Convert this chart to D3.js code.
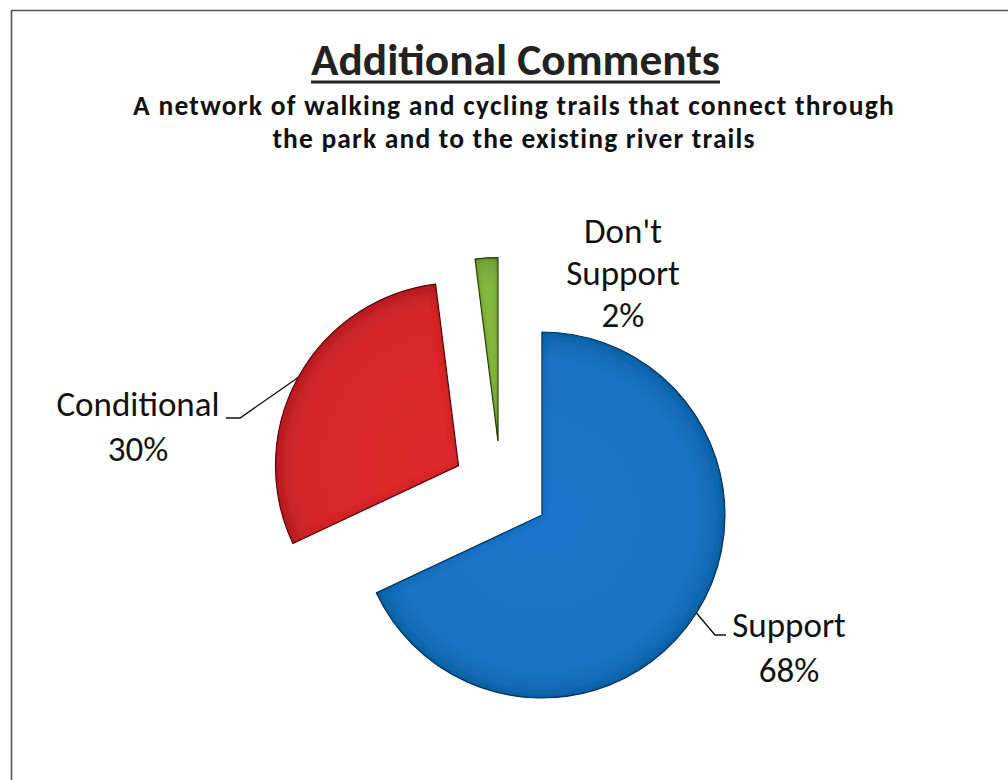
<!DOCTYPE html>
<html>
<head>
<meta charset="utf-8">
<script src="https://cdn.jsdelivr.net/npm/d3@7"></script>
<style>
  html, body { margin: 0; padding: 0; background: #fff; }
  svg { display: block; }
  text { font-family: Carlito, Lato, "Open Sans", sans-serif; fill: #111; }
</style>
</head>
<body>
<svg id="chart" width="1008" height="780"></svg>
<script>
// Survey responses, in the order they run clockwise from 12 o'clock
const categories = ["Support", "Conditional", "Don't Support"];
const percents = [68, 30, 2];
const sliceColors = ["#1a72c4", "#d7282b", "#84b83f"];
const edgeColors = ["#0d3c6e", "#6e1012", "#2f4a12"];

const titleText = "Additional Comments";
const subtitleLines = [
  "A network of walking and cycling trails that connect through",
  "the park and to the existing river trails"
];

const W = 1008, H = 780;
const svg = d3.select("#chart");

// frame (top and left rule)
svg.append("path")
  .attr("d", `M11.5,${H} V10.5 H${W}`)
  .attr("fill", "none")
  .attr("stroke", "#555")
  .attr("stroke-width", 1.6);

// size a single text line so it spans a given width
function fitText(sel, width, base) {
  sel.style("font-size", base + "px");
  const w = sel.node().getComputedTextLength();
  sel.style("font-size", (base * width / w) + "px");
}

// fixed font size, letter spacing adjusted to span a given width
function spreadText(sel, width, size) {
  sel.style("font-size", size + "px").style("letter-spacing", "0px");
  const w = sel.node().getComputedTextLength();
  const n = sel.text().length;
  sel.style("letter-spacing", ((width - w) / n) + "px");
}

// title with underline
const title = svg.append("text")
  .attr("x", 515.5).attr("y", 75)
  .attr("text-anchor", "middle")
  .style("font-weight", 700)
  .style("fill", "#222")
  .text(titleText);
fitText(title, 409, 40);
svg.append("line")
  .attr("x1", 311).attr("x2", 720)
  .attr("y1", 82).attr("y2", 82)
  .attr("stroke", "#222").attr("stroke-width", 3);

// subtitle
const subW = [762, 483];
const subY = [115, 148];
subtitleLines.forEach((s, i) => {
  const t = svg.append("text")
    .attr("x", 514).attr("y", subY[i])
    .attr("text-anchor", "middle")
    .style("font-weight", 700)
    .text(s);
  spreadText(t, subW[i], 27.5);
});

// bevel-like darkening along the inside of each slice edge
const defs = svg.append("defs");
const f = defs.append("filter").attr("id", "bevel")
  .attr("x", "-10%").attr("y", "-10%").attr("width", "120%").attr("height", "120%");
f.append("feGaussianBlur").attr("in", "SourceAlpha").attr("stdDeviation", 3.5).attr("result", "blur");
f.append("feComposite").attr("in", "SourceAlpha").attr("in2", "blur")
  .attr("operator", "arithmetic").attr("k1", 0).attr("k2", 1).attr("k3", -1).attr("k4", 0)
  .attr("result", "edge");
f.append("feFlood").attr("flood-color", "#000").attr("flood-opacity", 0.55).attr("result", "dark");
f.append("feComposite").attr("in", "dark").attr("in2", "edge").attr("operator", "in").attr("result", "shade");
const fm = f.append("feMerge");
fm.append("feMergeNode").attr("in", "SourceGraphic");
fm.append("feMergeNode").attr("in", "shade");

// soft highlight towards the slice centre
sliceColors.forEach((c, i) => {
  const g = defs.append("radialGradient").attr("id", "grad" + i)
    .attr("gradientUnits", "userSpaceOnUse")
    .attr("cx", 0).attr("cy", 0).attr("r", 183);
  g.append("stop").attr("offset", "0%").attr("stop-color", d3.color(c).brighter(0.1));
  g.append("stop").attr("offset", "85%").attr("stop-color", c);
  g.append("stop").attr("offset", "100%").attr("stop-color", d3.color(c).darker(0.35));
});

// exploded pie
const cx = 501, cy = 489, R = 183, explode = 48.5;
const data = categories.map((c, i) => ({ name: c, value: percents[i], idx: i }));
const pie = d3.pie().value(d => d.value).sort(null).startAngle(0).endAngle(2 * Math.PI);
const arc = d3.arc().innerRadius(0).outerRadius(R);
const arcs = pie(data);

function offsetOf(a) {
  const m = (a.startAngle + a.endAngle) / 2;
  return [cx + explode * Math.sin(m), cy - explode * Math.cos(m)];
}

const slices = svg.append("g");
arcs.forEach(a => {
  const [ox, oy] = offsetOf(a);
  const g = slices.append("g").attr("transform", `translate(${ox},${oy})`);
  g.append("path")
    .attr("d", arc(a))
    .attr("fill", `url(#grad${a.data.idx})`)
    .attr("stroke", edgeColors[a.data.idx])
    .attr("stroke-width", 1.2)
    .attr("stroke-linejoin", "round")
    .attr("filter", "url(#bevel)");
});

// point on a slice's outer arc at its mid angle
function rimPoint(a) {
  const [ox, oy] = offsetOf(a);
  const m = (a.startAngle + a.endAngle) / 2;
  return [ox + R * Math.sin(m), oy - R * Math.cos(m)];
}

// data labels
const labelFont = 35;
const labelSpec = {
  "Support": { x: 789, y: [637, 682], leader: p => [p, [715, 635], [726, 635]] },
  "Conditional": { x: 138, y: [416, 461], leader: p => [p, [240, 418], [226, 418]] },
  "Don't Support": { x: 623, y: [243, 285, 327], leader: null }
};

arcs.forEach(a => {
  const spec = labelSpec[a.data.name];
  const lines = a.data.name === "Don't Support"
    ? ["Don't", "Support", a.data.value + "%"]
    : [a.data.name, a.data.value + "%"];
  const t = svg.append("text")
    .attr("text-anchor", "middle")
    .style("font-size", labelFont + "px");
  lines.forEach((l, i) => {
    t.append("tspan").attr("x", spec.x).attr("y", spec.y[i]).text(l);
  });
  if (spec.leader) {
    svg.append("path")
      .attr("d", d3.line()(spec.leader(rimPoint(a))))
      .attr("fill", "none")
      .attr("stroke", "#111")
      .attr("stroke-width", 1.4);
  }
});
</script>
</body>
</html>
